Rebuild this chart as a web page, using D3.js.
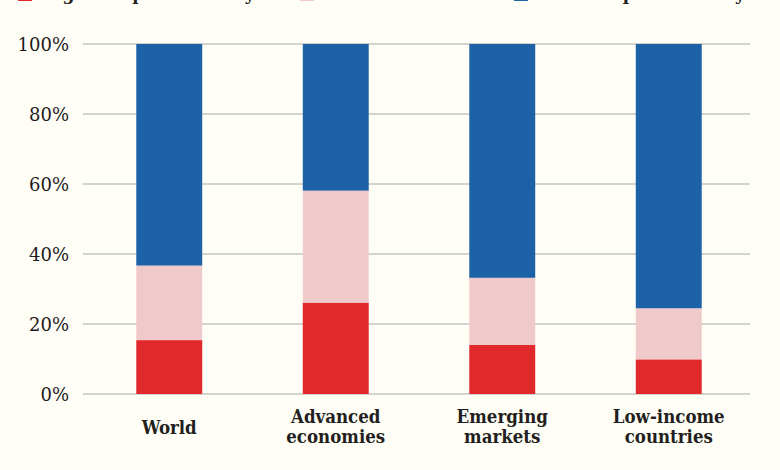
<!DOCTYPE html>
<html>
<head>
<meta charset="utf-8">
<script src="https://cdn.jsdelivr.net/npm/d3@7/dist/d3.min.js"></script>
<style>
  html, body { margin: 0; padding: 0; background: #fffef6; }
  svg { display: block; }
</style>
</head>
<body>
<svg id="chart" width="780" height="470"></svg>
<script>
const categories = [["World"], ["Advanced", "economies"], ["Emerging", "markets"], ["Low-income", "countries"]];
const highComp = [15.4, 26.1, 14.0, 9.9];
const midComp = [21.3, 32.0, 19.2, 14.6];
const lowComp = [63.3, 41.9, 66.8, 75.5];
const yTicks = [0, 20, 40, 60, 80, 100];
const seriesNames = ["High complementarity", "Medium", "Low complementarity"];
const seriesColors = ["#e1282b", "#f0c9ca", "#1d62a7"];

const svg = d3.select("#chart");
svg.append("rect").attr("width", 780).attr("height", 470).attr("fill", "#fffef6");

const catKeys = categories.map(c => c.join(" "));
const x = d3.scaleBand().domain(catKeys).range([86, 752]).paddingInner(0.604).paddingOuter(0.302);
const y = d3.scaleLinear().domain([0, 100]).range([394, 44]);

// gridlines
svg.append("g").selectAll("line").data(yTicks).join("line")
  .attr("x1", 83).attr("x2", 750)
  .attr("y1", d => y(d)).attr("y2", d => y(d))
  .attr("stroke", "#a9a9a6").attr("stroke-width", 1.2);

// y-axis labels
const yAxis = d3.axisLeft(y).tickValues(yTicks).tickFormat(d => d + "%").tickSize(0).tickPadding(0);
const yg = svg.append("g").attr("transform", "translate(69,0)").call(yAxis);
yg.select(".domain").remove();
yg.selectAll("text")
  .attr("font-family", "'DejaVu Serif', serif")
  .attr("font-size", 18).attr("fill", "#1e1b1c").attr("dy", "0.36em");

// stacked data
const rows = catKeys.map((k, i) => ({ key: k, s0: highComp[i], s1: midComp[i], s2: lowComp[i] }));
const stack = d3.stack().keys(["s0", "s1", "s2"])(rows);

svg.append("g").selectAll("g").data(stack).join("g")
  .attr("fill", (d, i) => seriesColors[i])
  .selectAll("rect").data(d => d).join("rect")
  .attr("x", d => x(d.data.key))
  .attr("width", x.bandwidth())
  .attr("y", d => y(d[1]))
  .attr("height", d => y(d[0]) - y(d[1]));

// category labels
const labelG = svg.append("g");
categories.forEach((lines, i) => {
  const cx = x(catKeys[i]) + x.bandwidth() / 2;
  const baseY = lines.length === 1 ? 434 : 423;
  lines.forEach((ln, j) => {
    labelG.append("text")
      .attr("x", cx)
      .attr("y", baseY + j * 20)
      .attr("text-anchor", "middle")
      .attr("font-family", "'DejaVu Serif', serif")
      .attr("font-stretch", "condensed")
      .attr("font-weight", "bold")
      .attr("font-size", 18.5)
      .attr("fill", "#231f20")
      .text(ln);
  });
});

// legend (mostly cropped at top, as in the reference)
const legend = svg.append("g");
const legX = [18, 300, 514];
[0, 1, 2].forEach(i => {
  legend.append("rect").attr("x", legX[i]).attr("y", -14).attr("width", 14).attr("height", 15)
    .attr("fill", seriesColors[i]);
});
legend.append("text").attr("x", 40).attr("y", 0)
  .attr("font-family", "'DejaVu Serif', serif").attr("font-weight", "bold")
  .attr("font-size", 17).attr("fill", "#231f20").text(seriesNames[0]);
legend.append("text").attr("x", 745).attr("y", 0).attr("text-anchor", "end")
  .attr("font-family", "'DejaVu Serif', serif").attr("font-weight", "bold")
  .attr("font-size", 17).attr("fill", "#231f20").text(seriesNames[2]);
</script>
</body>
</html>
